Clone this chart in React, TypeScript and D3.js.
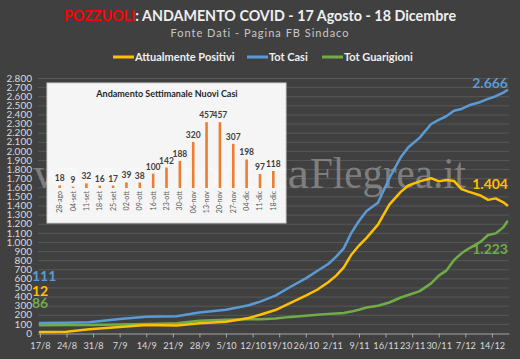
import { useEffect, useRef } from "react"
import * as d3 from "d3"

// sample dates of the daily series
const dates = [
    "2020-08-17", "2020-08-24", "2020-08-30", "2020-09-07", "2020-09-14", "2020-09-22",
    "2020-09-28", "2020-10-05", "2020-10-11", "2020-10-14", "2020-10-18", "2020-10-22",
    "2020-10-26", "2020-10-29", "2020-11-01", "2020-11-03", "2020-11-05", "2020-11-07",
    "2020-11-09", "2020-11-11", "2020-11-14", "2020-11-17", "2020-11-20", "2020-11-22",
    "2020-11-25", "2020-11-28", "2020-11-30", "2020-12-02", "2020-12-04", "2020-12-06",
    "2020-12-08", "2020-12-11", "2020-12-13", "2020-12-15", "2020-12-17", "2020-12-18"
]
const totCasi = [
    111, 113, 118, 155, 178, 185, 225, 255, 305, 345, 410, 508,
    600, 680, 760, 838, 930, 1100, 1230, 1340, 1430, 1700, 1930, 2040,
    2145, 2295, 2340, 2380, 2440, 2460, 2500, 2537, 2570, 2600, 2640, 2666
]
const positivi = [
    12, 14, 40, 66, 88, 82, 106, 124, 165, 200, 252, 330,
    410, 475, 560, 630, 720, 860, 960, 1045, 1190, 1410, 1550, 1620,
    1665, 1700, 1665, 1680, 1670, 1580, 1550, 1510, 1462, 1478, 1435, 1404
]
const guarigioni = [
    86, 87, 88, 92, 99, 106, 135, 145, 150, 152, 160, 177,
    190, 200, 210, 215, 220, 235, 255, 280, 300, 335, 390, 417,
    460, 545, 630, 685, 800, 875, 930, 1000, 1076, 1094, 1160, 1223
]

const xTicks = [
    "2020-08-17", "2020-08-24", "2020-08-31", "2020-09-07", "2020-09-14", "2020-09-21",
    "2020-09-28", "2020-10-05", "2020-10-12", "2020-10-19", "2020-10-26", "2020-11-02",
    "2020-11-09", "2020-11-16", "2020-11-23", "2020-11-30", "2020-12-07", "2020-12-14"
]
const yTicks = [
    0, 100, 200, 300, 400, 500, 600, 700, 800, 900, 1000, 1100, 1200, 1300, 1400,
    1500, 1600, 1700, 1800, 1900, 2000, 2100, 2200, 2300, 2400, 2500, 2600, 2700, 2800
]

// inset: weekly new cases
const weeks = [
    "28-ago", "04-set", "11-set", "18-set", "25-set", "02-ott", "09-ott", "16-ott", "23-ott",
    "30-ott", "06-nov", "13-nov", "20-nov", "27-nov", "04-dic", "11-dic", "18-dic"
]
const weeklyCases = [18, 9, 32, 16, 17, 39, 38, 100, 142, 188, 320, 457, 457, 307, 198, 97, 118]

const series = [
    { name: "Attualmente Positivi", values: positivi, color: "#FFC000" },
    { name: "Tot Casi", values: totCasi, color: "#5B9BD5" },
    { name: "Tot Guarigioni", values: guarigioni, color: "#70AD47" }
]

const W = 520
const H = 359
const FONT = "Lato, 'Open Sans', sans-serif"

export default function App() {
    const ref = useRef<SVGSVGElement>(null)

    useEffect(() => {
        const host = ref.current
        if (!host) return
        const svg = d3.select(host)
        svg.selectAll("*").remove()

        const parse = d3.utcParse("%Y-%m-%d")
        const pts = dates.map(d => parse(d) as Date)
        const it = d3.formatLocale({ decimal: ",", thousands: ".", grouping: [3], currency: ["€", ""] })
        const fmt = it.format(",d")

        const x = d3.scaleUtc()
            .domain([d3.utcHour.offset(pts[0], -12), d3.utcHour.offset(pts[pts.length - 1], 12)])
            .range([38, 509])
        const y = d3.scaleLinear().domain([0, 2800]).range([333, 78])

        svg.append("rect").attr("width", W).attr("height", H).attr("fill", "#404040")

        // title
        const title = svg.append("text")
            .attr("x", W / 2).attr("y", 21)
            .attr("text-anchor", "middle")
            .attr("font-family", FONT).attr("font-size", 14.3).attr("font-weight", 700)
            .attr("fill", "#efefef")
        title.append("tspan").attr("fill", "#FF0000").text("POZZUOLI")
        title.append("tspan").text(": ANDAMENTO COVID - 17 Agosto - 18 Dicembre")

        svg.append("text")
            .attr("x", W / 2).attr("y", 37)
            .attr("text-anchor", "middle")
            .attr("font-family", FONT).attr("font-size", 11)
            .attr("letter-spacing", 1)
            .attr("fill", "#c8c8c8")
            .text("Fonte  Dati - Pagina FB Sindaco")

        // legend
        const legendX = [113, 247, 322]
        const lg = svg.append("g")
        series.forEach((s, i) => {
            lg.append("line")
                .attr("x1", legendX[i]).attr("x2", legendX[i] + 21)
                .attr("y1", 57).attr("y2", 57)
                .attr("stroke", s.color).attr("stroke-width", 3)
            lg.append("text")
                .attr("x", legendX[i] + 22).attr("y", 61)
                .attr("font-family", FONT).attr("font-size", 11).attr("font-weight", 700)
                .attr("fill", "#efefef")
                .text(s.name)
        })

        // gridlines
        svg.append("g")
            .selectAll("line")
            .data(yTicks.filter(v => v > 0))
            .join("line")
            .attr("x1", 38).attr("x2", 509)
            .attr("y1", d => y(d) + 0.5).attr("y2", d => y(d) + 0.5)
            .attr("stroke", "#575757").attr("stroke-width", 1)

        // y axis labels
        const ya = svg.append("g")
            .attr("transform", "translate(38,0)")
            .call(d3.axisLeft(y).tickValues(yTicks).tickSize(0).tickPadding(6).tickFormat(d => fmt(d as number)))
        ya.select(".domain").remove()
        ya.selectAll("text")
            .attr("font-family", FONT).attr("font-size", 10)
            .attr("fill", "#d9d9d9")

        // watermark (partly behind the inset)
        const wm = svg.append("g")
            .attr("font-family", "'Liberation Serif', serif").attr("font-size", 44)
            .attr("fill", "#8a8a8a").attr("fill-opacity", 0.85)
        wm.append("text")
            .attr("x", 33).attr("y", 188)
            .attr("textLength", 276).attr("lengthAdjust", "spacingAndGlyphs")
            .text("www.Cronaca")
        wm.append("text")
            .attr("x", 310).attr("y", 188)
            .attr("textLength", 156).attr("lengthAdjust", "spacingAndGlyphs")
            .text("Flegrea.it")

        // x axis
        const xa = svg.append("g")
            .attr("transform", "translate(0,333.5)")
            .call(d3.axisBottom(x)
                .tickValues(xTicks.map(d => parse(d) as Date))
                .tickSize(4).tickSizeOuter(0).tickPadding(5)
                .tickFormat(d => d3.utcFormat("%-d/%-m")(d as Date)))
        xa.select(".domain").attr("stroke", "#a6a6a6")
        xa.selectAll(".tick line").attr("stroke", "#a6a6a6")
        xa.selectAll("text")
            .attr("font-family", FONT).attr("font-size", 9.2)
            .attr("fill", "#d9d9d9")

        // lines
        const line = d3.line<number>()
            .x((_, i) => x(pts[i]))
            .y(d => y(d))
        const order = [2, 0, 1]
        order.forEach(k => {
            const s = series[k]
            svg.append("path")
                .datum(s.values)
                .attr("d", line)
                .attr("fill", "none")
                .attr("stroke", s.color)
                .attr("stroke-width", 2.5)
                .attr("stroke-linejoin", "round")
                .attr("stroke-linecap", "round")
        })

        // start / end values
        const startY = [291, 276, 303]
        const endY = [184, 83, 249]
        series.forEach((s, i) => {
            svg.append("text")
                .attr("x", 32).attr("y", startY[i])
                .attr("dy", "0.35em")
                .attr("font-family", FONT).attr("font-size", 14).attr("font-weight", 700)
                .attr("fill", s.color)
                .text(fmt(s.values[0]))
            svg.append("text")
                .attr("x", 508).attr("y", endY[i])
                .attr("dy", "0.35em")
                .attr("text-anchor", "end")
                .attr("font-family", FONT).attr("font-size", 14).attr("font-weight", 700)
                .attr("fill", s.color)
                .text(fmt(s.values[s.values.length - 1]))
        })

        // inset chart
        const inset = svg.append("g")
        inset.append("rect")
            .attr("x", 47).attr("y", 83).attr("width", 239).attr("height", 140)
            .attr("fill", "#ffffff").attr("fill-opacity", 0.95).attr("stroke", "#d0d0d0")
        inset.append("text")
            .attr("x", 167).attr("y", 97)
            .attr("text-anchor", "middle")
            .attr("font-family", FONT).attr("font-size", 9).attr("font-weight", 700)
            .attr("fill", "#262626")
            .text("Andamento Settimanale Nuovi Casi")

        const bx = d3.scaleBand<string>().domain(weeks).range([53, 280])
        const by = d3.scaleLinear().domain([0, 500]).range([188, 116])
        const bw = 2.6
        inset.append("g")
            .selectAll("rect")
            .data(weeklyCases)
            .join("rect")
            .attr("x", (_, i) => (bx(weeks[i]) ?? 0) + bx.bandwidth() / 2 - bw / 2)
            .attr("y", d => by(d))
            .attr("width", bw)
            .attr("height", d => by(0) - by(d))
            .attr("fill", "#ED7D31")
        inset.append("g")
            .selectAll("text")
            .data(weeklyCases)
            .join("text")
            .attr("x", (_, i) => (bx(weeks[i]) ?? 0) + bx.bandwidth() / 2)
            .attr("y", d => by(d) - 4)
            .attr("text-anchor", "middle")
            .attr("font-family", FONT).attr("font-size", 8.5).attr("font-weight", 700)
            .attr("fill", "#404040")
            .text(d => d)
        inset.append("g")
            .selectAll("text")
            .data(weeks)
            .join("text")
            .attr("transform", d => `translate(${(bx(d) ?? 0) + bx.bandwidth() / 2 + 2.5},${by(0) + 3}) rotate(-90)`)
            .attr("text-anchor", "end")
            .attr("font-family", FONT).attr("font-size", 7)
            .attr("fill", "#595959")
            .text(d => d)
    }, [])

    return (
        <svg
            ref={ref}
            width={W}
            height={H}
            style={{ position: "absolute", left: 0, top: 0, display: "block" }}
        />
    )
}
